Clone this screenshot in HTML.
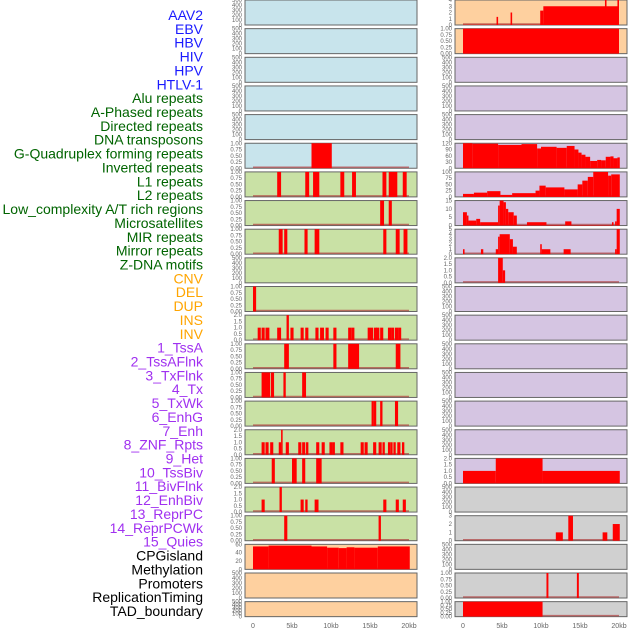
<!DOCTYPE html>
<html><head><meta charset="utf-8"><style>
body{margin:0;background:#fff;width:630px;height:630px;overflow:hidden}
svg{position:absolute;left:0;top:0}
text{font-family:"Liberation Sans",sans-serif}
</style></head><body>
<svg id="chart" width="630" height="630"></svg>
<script>
// ---- labels ----
const labels = ["AAV2","EBV","HBV","HIV","HPV","HTLV-1","Alu repeats","A-Phased repeats","Directed repeats","DNA transposons","G-Quadruplex forming repeats","Inverted repeats","L1 repeats","L2 repeats","Low_complexity A/T rich regions","Microsatellites","MIR repeats","Mirror repeats","Z-DNA motifs","CNV","DEL","DUP","INS","INV","1_TssA","2_TssAFlnk","3_TxFlnk","4_Tx","5_TxWk","6_EnhG","7_Enh","8_ZNF_Rpts","9_Het","10_TssBiv","11_BivFlnk","12_EnhBiv","13_ReprPC","14_ReprPCWk","15_Quies","CPGisland","Methylation","Promoters","ReplicationTiming","TAD_boundary"];
const labelGroups = [6,13,5,15,5];
const groupColors = ["#1a1aff","#006400","#ffa500","#a030f0","#000000"];
// ---- ticks ----
const T500=[0,100,200,300,400,500], T1=["0.00","0.25","0.50","0.75","1.00"], T2=["0.0","0.5","1.0","1.5","2.0"];
const T4=[0,1,2,3,4], T60=[0,20,40,60], T120=[0,30,60,90,120], T100=[0,25,50,75,100], T15=[0,5,10,15], T5=[0,1,2,3,4,5], T3=[0,1,2,3];
const xTicks=[0,5,10,15,20], xTickLabels=["0","5kb","10kb","15kb","20kb"];
// ---- left column data [startKb,endKb,value] ----
const L_GQuad=[[7.5,10.1,1]];
const L_L1=[[3.1,3.6,1],[6.7,7.2,1],[7.7,8.5,1],[11.2,11.7,1],[12.7,13.2,1],[16.6,17.1,1],[17.4,18.5,1],[19.2,19.7,1]];
const L_L2=[[16.3,16.8,1],[17.4,17.8,1]];
const L_MIR=[[3.3,3.8,1],[4.0,4.4,1],[6.6,7.0,1],[7.9,8.5,1],[16.7,17.1,1],[18.3,18.8,1],[19.3,19.8,1]];
const L_DEL=[[0,0.4,1]];
const L_INS=[[0.6,1.0,1],[1.1,1.5,1],[1.6,2.1,1],[3.1,3.6,1],[4.3,4.6,2],[4.8,5.2,1],[6.1,6.5,1],[6.7,7.1,1],[8.0,8.4,1],[8.6,9.1,1],[9.3,9.7,1],[10.3,10.7,1],[12.2,12.6,1],[12.6,13.0,1],[14.7,15.4,1],[15.5,15.9,1],[15.8,16.2,1],[16.3,16.7,1],[17.3,17.7,1],[17.7,18.1,1],[18.2,18.6,1],[18.6,19.0,1]];
const L_TssA=[[4.0,4.6,1],[10.3,10.7,1],[12.2,13.6,1],[18.3,18.9,1]];
const L_TxFlnk=[[1.1,2.2,1],[2.3,2.7,1],[3.9,4.2,1],[6.3,6.8,1]];
const L_TxWk=[[15.2,15.5,1],[15.5,15.8,1],[16.3,16.6,1],[18.2,18.6,1]];
const L_ZNF=[[1.1,1.5,1],[1.6,2.0,1],[2.2,2.6,1],[3.3,3.6,1],[3.6,3.8,2],[4.2,4.6,1],[5.8,6.2,1],[6.3,6.7,1],[6.8,7.1,1],[8.1,8.5,1],[8.8,9.2,1],[9.8,10.2,1],[10.2,10.5,1],[11.2,11.6,1],[13.8,14.2,1],[14.3,14.7,1],[15.4,15.8,1],[16.1,16.5,1],[16.6,16.9,1],[17.3,17.6,1],[17.6,17.9,1],[18.0,18.3,1],[18.5,18.9,1],[19.1,19.4,1]];
const L_BivFlnk=[[2.4,2.8,1],[5.0,5.6,1],[6.3,6.7,1],[8.1,8.8,1]];
const L_EnhBiv=[[1.1,1.5,1],[3.4,3.7,2],[6.1,6.5,1],[6.7,7.0,1],[7.9,8.4,1],[16.7,17.1,1],[18.3,18.7,1],[19.2,19.6,1]];
const L_ReprPC=[[4.0,4.4,1],[16.1,16.4,1]];
const L_CPG=[[0,2,55],[2,7.5,57],[7.5,9.5,55],[9.5,11,52],[11,12,51],[12,13,53],[13,16,52],[16,20.1,55]];
// ---- right column data ----
const R_AAV2=[[0,20,0.05],[4.3,4.5,1.3],[6.1,6.3,2],[9.9,10.3,2.3],[10.3,20,3],[18.2,18.4,4.5],[19.8,20,4]];
const R_EBV=[[0,20,1]];
const R_GQuad=[[0,1.2,120],[1.2,4.5,118],[4.5,7.5,112],[7.5,9.5,116],[9.5,10.0,95],[10.0,12.0,103],[12.0,13.3,98],[13.3,14.3,107],[14.3,14.8,90],[14.8,15.2,75],[15.2,15.7,65],[15.7,16.3,55],[16.3,17.2,35],[17.2,17.7,40],[17.7,18.3,38],[18.3,18.9,55],[18.9,19.3,57],[19.3,19.8,48],[19.8,20.1,52]];
const R_L1=[[0,1.4,12],[1.4,3.1,17],[3.1,4.8,23],[4.8,6.3,8],[6.3,9.3,15],[9.3,9.8,25],[9.8,10.6,45],[10.6,13.0,38],[13.0,14.7,30],[14.7,15.3,50],[15.3,16.0,65],[16.0,16.7,80],[16.7,18.6,100],[18.6,19.0,85],[19.0,20.1,90]];
const R_LowComp=[[0,0.5,8],[0.5,0.7,6],[0.7,1.7,3],[1.7,2.2,4],[2.2,4.5,2],[4.5,4.7,12],[4.7,5.2,17],[5.2,5.5,14],[5.5,5.8,10],[5.8,6.5,8],[6.5,6.9,6],[6.9,8.2,0.3],[8.2,10.7,2],[10.7,13.1,0.3],[13.1,13.9,2.5],[13.9,19.1,0.3],[19.1,19.3,2],[19.5,19.7,2.5],[19.7,20.1,10]];
const R_MIR=[[0,0.2,1],[2.3,2.6,1],[4.2,4.5,1],[4.5,4.7,3.5],[4.7,6.0,4],[6.0,6.4,3],[6.4,6.9,1.5],[9.9,10.1,2],[10.1,11.2,1],[12.9,13.8,1],[19.5,19.7,1],[19.7,20.1,5]];
const R_ZDNA=[[4.5,5.1,2],[5.1,5.4,1]];
const R_Het=[[0,4.2,1],[4.2,10.2,2],[10.2,20.1,1]];
const R_ReprPC=[[11.9,12.8,1],[13.5,14.1,3],[17.9,18.5,1],[19.2,20.1,2]];
const R_Prom=[[10.7,10.95,1],[14.6,14.85,1]];
const R_TAD=[[0,10.2,1]];

const BLUE="#c8e4ec",GREEN="#c9e1a5",PEACH="#fed09f",PURPLE="#d5c5e2",GRAY="#d0d0d0";
const leftRows=[
[BLUE,T500,null],[BLUE,T500,null],[BLUE,T500,null],[BLUE,T500,null],[BLUE,T500,null],[BLUE,T1,L_GQuad],
[GREEN,T1,L_L1],[GREEN,T1,L_L2],[GREEN,T1,L_MIR],[GREEN,T500,null],[GREEN,T1,L_DEL],[GREEN,T2,L_INS],
[GREEN,T1,L_TssA],[GREEN,T1,L_TxFlnk],[GREEN,T1,L_TxWk],[GREEN,T2,L_ZNF],[GREEN,T1,L_BivFlnk],[GREEN,T2,L_EnhBiv],
[GREEN,T1,L_ReprPC],[PEACH,T60,L_CPG],[PEACH,T500,null],[PEACH,T500,null]];
const rightRows=[
[PEACH,T4,R_AAV2],[PEACH,T1,R_EBV],[PURPLE,T500,null],[PURPLE,T500,null],[PURPLE,T500,null],[PURPLE,T120,R_GQuad],
[PURPLE,T100,R_L1],[PURPLE,T15,R_LowComp],[PURPLE,T5,R_MIR],[PURPLE,T2,R_ZDNA],[PURPLE,T500,null],[PURPLE,T500,null],
[PURPLE,T500,null],[PURPLE,T500,null],[PURPLE,T500,null],[PURPLE,T500,null],[PURPLE,T2,R_Het],[GRAY,T500,null],
[GRAY,T3,R_ReprPC],[GRAY,T500,null],[GRAY,T1,R_Prom],[GRAY,T1,R_TAD]];

const NS="http://www.w3.org/2000/svg";
const svg=document.getElementById('chart');
function mk(tag,attrs,parent){const e=document.createElementNS(NS,tag);for(const k in attrs)e.setAttribute(k,attrs[k]);(parent||svg).appendChild(e);return e;}

// labels
let li=0;
labelGroups.forEach((n,g)=>{for(let i=0;i<n;i++){
  const t=mk('text',{x:203,y:15+li*13.86+5,'text-anchor':'end','font-size':14,fill:groupColors[g]});
  t.textContent=labels[li];
  
  
  li++;}});

function drawCol(rows,px,side){
  const x0=px+8,x1=px+164;
  const xs=kb=>x0+(x1-x0)*kb/20;
  rows.forEach((r,i)=>{
    const top=i*28.65, h=(i===21)?15:25;
    const g=mk('g',{});
    
    
    const rect=mk('rect',{x:px,y:top,width:172,height:h,fill:r[0],stroke:'#666','stroke-width':1},g);
    
    
    const ticks=r[1], maxV=parseFloat(ticks[ticks.length-1]);
    const ys=v=>top+h-h*Math.min(v,maxV)/maxV;
    ticks.forEach(tv=>{
      const t=mk('text',{x:px-3,y:ys(parseFloat(tv))+2,'text-anchor':'end','font-size':6,fill:'#666'},g);
      t.textContent=tv;
      
      
    });
    if(r[2]){
      const base=mk('line',{x1:xs(0),x2:xs(20),y1:top+h-1,y2:top+h-1,stroke:'#b04040','stroke-width':1.5,opacity:0.7},g);
      
      
      r[2].forEach(s=>{
        const b=mk('rect',{x:xs(s[0]),y:ys(s[2]),width:Math.max(1,xs(s[1])-xs(s[0])),height:top+h-ys(s[2]),fill:'#ff0000'},g);
        
        
      });
    }
  });
  xTicks.forEach((k,j)=>{
    const t=mk('text',{x:xs(k),y:628,'text-anchor':'middle','font-size':7,fill:'#666'});
    t.textContent=xTickLabels[j];
    
    
  });
}
drawCol(leftRows,245,'left');
drawCol(rightRows,455,'right');
</script>
</body></html>
